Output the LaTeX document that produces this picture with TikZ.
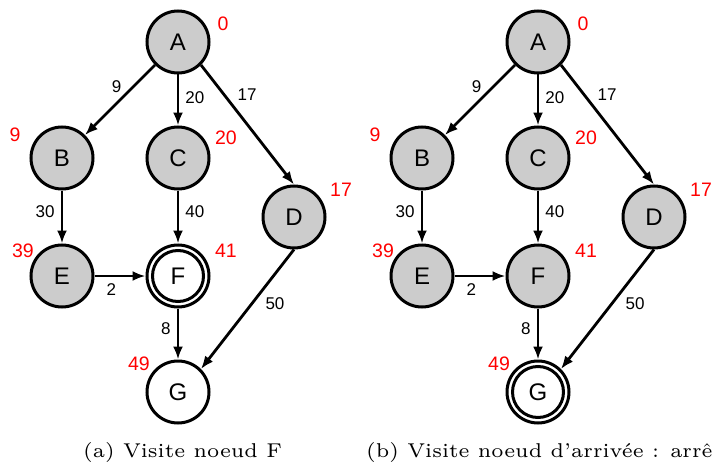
\documentclass[tikz,border=0pt]{standalone}
\usepackage{fontspec}
\newfontfamily\graphfont{Liberation Sans}
\newfontfamily\capfont[Ligatures=TeX]{lmroman6-regular.otf}
\usetikzlibrary{arrows.meta}
\tikzset{
  vertex/.style={circle, draw, line width=3pt, minimum size=62pt, inner sep=0pt,
    font=\graphfont\fontsize{24}{24}\selectfont},
  done/.style={vertex, fill=black!20},
  open/.style={vertex, fill=white},
  edge/.style={line width=2.8pt, -{Latex[length=13pt,width=10pt]}},
  weight/.style={font=\graphfont\fontsize{17}{17}\selectfont, inner sep=0pt},
  dist/.style={font=\graphfont\fontsize{19.5}{19.5}\selectfont, text=red, inner sep=0pt},
  caption/.style={font=\capfont\fontsize{20}{20}\selectfont, inner sep=0pt, anchor=base west},
  ring/.style={line width=3pt}
}
\begin{document}
\begin{tikzpicture}[x=1pt, y=1pt]
\useasboundingbox (0,0) rectangle (712,467);
\clip (0,0) rectangle (712,467);

% ---------- (a) current node F ----------
\begin{scope}
\node[done] (A) at (178,425) {A};
\node[done] (B) at (62,309) {B};
\node[done] (C) at (178,309) {C};
\node[done] (D) at (294,250) {D};
\node[done] (E) at (62,191) {E};
\node[open] (F) at (178,191) {F};
\node[open] (G) at (178,75) {G};
\draw[ring] (F.center) circle (25.5pt);

\draw[edge] (A.south west) -- node[weight, pos=0.42, anchor=south east, xshift=-3pt] {9} (B.north east);
\draw[edge] (A) -- node[weight, pos=0.45, anchor=west, xshift=6pt] {20} (C);
\draw[edge] (A.south east) -- node[weight, pos=0.25, anchor=west, xshift=12pt] {17} (D.north);
\draw[edge] (B) -- node[weight, pos=0.4, anchor=east, xshift=-6pt] {30} (E);
\draw[edge] (C) -- node[weight, pos=0.4, anchor=west, xshift=6pt] {40} (F);
\draw[edge] (E) -- node[weight, pos=0.33, anchor=north, yshift=-6pt] {2} (F);
\draw[edge] (F) -- node[weight, pos=0.4, anchor=east, xshift=-6pt] {8} (G);
\draw[edge] (D.south) -- node[weight, pos=0.45, anchor=west, xshift=12pt] {50} (G.north east);

\node[dist] (dA) at ([shift={(45,18)}]A.center) {0};
\node[dist] (dB) at ([shift={(-47,23)}]B.center) {9};
\node[dist] (dC) at ([shift={(48,20)}]C.center) {20};
\node[dist] (dD) at ([shift={(47,27)}]D.center) {17};
\node[dist] (dE) at ([shift={(-39,25)}]E.center) {39};
\node[dist] (dF) at ([shift={(48,25)}]F.center) {41};
\node[dist] (dG) at ([shift={(-39,28)}]G.center) {49};

\node[caption] (capA) at (83,10) {(a) Visite noeud F};
\end{scope}

% ---------- (b) arrival node reached ----------
\begin{scope}[xshift=360pt]
\node[done] (A2) at (178,425) {A};
\node[done] (B2) at (62,309) {B};
\node[done] (C2) at (178,309) {C};
\node[done] (D2) at (294,250) {D};
\node[done] (E2) at (62,191) {E};
\node[done] (F2) at (178,191) {F};
\node[open] (G2) at (178,75) {G};
\draw[ring] (G2.center) circle (25.5pt);

\draw[edge] (A2.south west) -- node[weight, pos=0.42, anchor=south east, xshift=-3pt] {9} (B2.north east);
\draw[edge] (A2) -- node[weight, pos=0.45, anchor=west, xshift=6pt] {20} (C2);
\draw[edge] (A2.south east) -- node[weight, pos=0.25, anchor=west, xshift=12pt] {17} (D2.north);
\draw[edge] (B2) -- node[weight, pos=0.4, anchor=east, xshift=-6pt] {30} (E2);
\draw[edge] (C2) -- node[weight, pos=0.4, anchor=west, xshift=6pt] {40} (F2);
\draw[edge] (E2) -- node[weight, pos=0.33, anchor=north, yshift=-6pt] {2} (F2);
\draw[edge] (F2) -- node[weight, pos=0.4, anchor=east, xshift=-6pt] {8} (G2);
\draw[edge] (D2.south) -- node[weight, pos=0.45, anchor=west, xshift=12pt] {50} (G2.north east);

\node[dist] (dA2) at ([shift={(45,18)}]A2.center) {0};
\node[dist] (dB2) at ([shift={(-47,23)}]B2.center) {9};
\node[dist] (dC2) at ([shift={(48,20)}]C2.center) {20};
\node[dist] (dD2) at ([shift={(47,27)}]D2.center) {17};
\node[dist] (dE2) at ([shift={(-39,25)}]E2.center) {39};
\node[dist] (dF2) at ([shift={(48,25)}]F2.center) {41};
\node[dist] (dG2) at ([shift={(-39,28)}]G2.center) {49};

\node[caption] (capB) at (6,10) {(b) Visite noeud d’arrivée : arrêt};
\end{scope}
\end{tikzpicture}
\end{document}
